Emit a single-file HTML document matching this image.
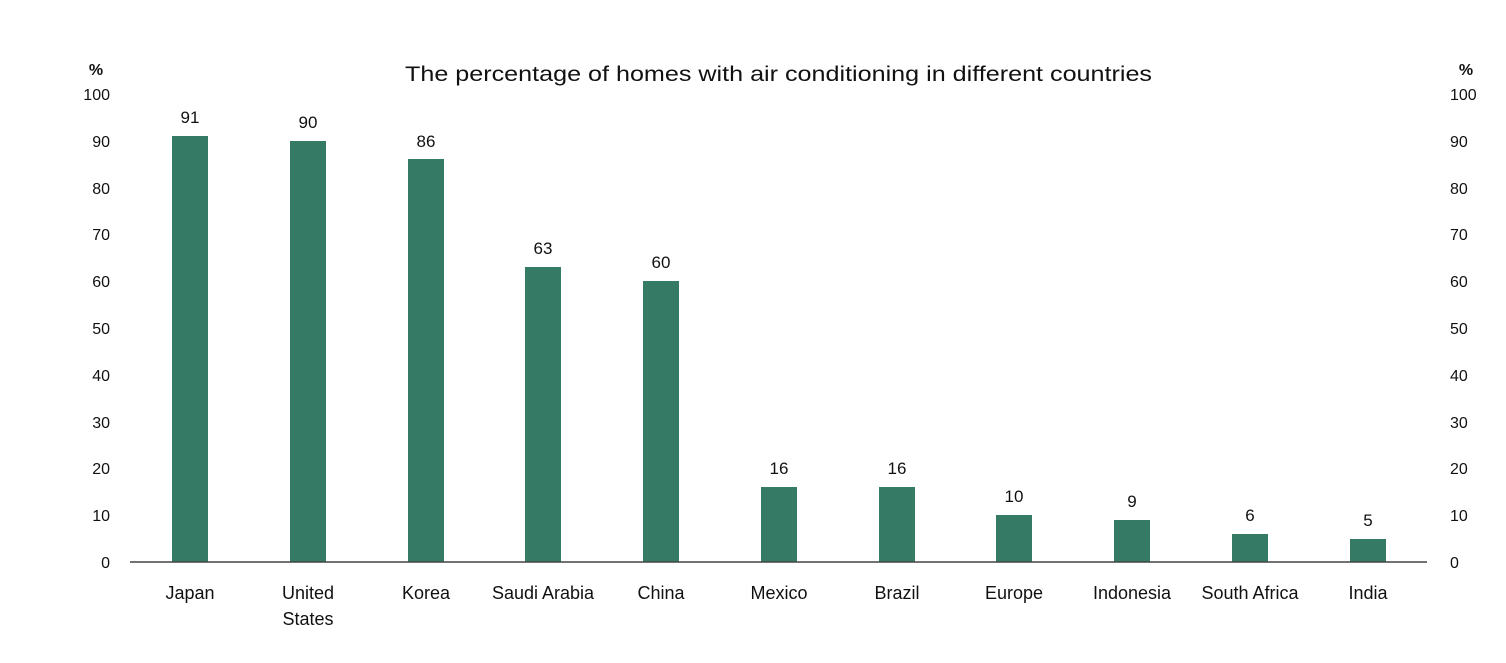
<!DOCTYPE html>
<html><head><meta charset="utf-8"><style>
body{margin:0;background:#fff}
svg text{font-family:"Liberation Sans",sans-serif;fill:#111}
</style></head><body>
<svg width="1506" height="658" viewBox="0 0 1506 658" xmlns="http://www.w3.org/2000/svg">
<rect width="1506" height="658" fill="#fff"/>
<text x="405" y="81" font-size="21" textLength="747" lengthAdjust="spacingAndGlyphs">The percentage of homes with air conditioning in different countries</text>
<text x="96" y="75" font-size="16" text-anchor="middle" font-weight="bold">%</text>
<text x="1466" y="75" font-size="16" text-anchor="middle" font-weight="bold">%</text>
<g font-size="16">
<text x="110" y="568" text-anchor="end">0</text><text x="1450" y="568">0</text>
<text x="110" y="521" text-anchor="end">10</text><text x="1450" y="521">10</text>
<text x="110" y="474" text-anchor="end">20</text><text x="1450" y="474">20</text>
<text x="110" y="428" text-anchor="end">30</text><text x="1450" y="428">30</text>
<text x="110" y="381" text-anchor="end">40</text><text x="1450" y="381">40</text>
<text x="110" y="334" text-anchor="end">50</text><text x="1450" y="334">50</text>
<text x="110" y="287" text-anchor="end">60</text><text x="1450" y="287">60</text>
<text x="110" y="240" text-anchor="end">70</text><text x="1450" y="240">70</text>
<text x="110" y="194" text-anchor="end">80</text><text x="1450" y="194">80</text>
<text x="110" y="147" text-anchor="end">90</text><text x="1450" y="147">90</text>
<text x="110" y="100" text-anchor="end">100</text><text x="1450" y="100">100</text>
</g>
<g fill="#347a64">
<rect x="172" y="136" width="36" height="426"/>
<rect x="290" y="141" width="36" height="421"/>
<rect x="408" y="159" width="36" height="403"/>
<rect x="525" y="267" width="36" height="295"/>
<rect x="643" y="281" width="36" height="281"/>
<rect x="761" y="487" width="36" height="75"/>
<rect x="879" y="487" width="36" height="75"/>
<rect x="996" y="515" width="36" height="47"/>
<rect x="1114" y="520" width="36" height="42"/>
<rect x="1232" y="534" width="36" height="28"/>
<rect x="1350" y="539" width="36" height="23"/>
</g>
<line x1="130" y1="562" x2="1427" y2="562" stroke="#444" stroke-width="1.5"/>
<g font-size="17" text-anchor="middle">
<text x="190" y="123">91</text><text x="308" y="128">90</text><text x="426" y="147">86</text>
<text x="543" y="254">63</text><text x="661" y="268">60</text><text x="779" y="474">16</text>
<text x="897" y="474">16</text><text x="1014" y="502">10</text><text x="1132" y="507">9</text>
<text x="1250" y="521">6</text><text x="1368" y="526">5</text>
</g>
<g font-size="18" text-anchor="middle">
<text x="190" y="599">Japan</text><text x="308" y="599">United</text><text x="308" y="625">States</text>
<text x="426" y="599">Korea</text><text x="543" y="599">Saudi Arabia</text><text x="661" y="599">China</text>
<text x="779" y="599">Mexico</text><text x="897" y="599">Brazil</text><text x="1014" y="599">Europe</text>
<text x="1132" y="599">Indonesia</text><text x="1250" y="599">South Africa</text><text x="1368" y="599">India</text>
</g>
</svg>
</body></html>
